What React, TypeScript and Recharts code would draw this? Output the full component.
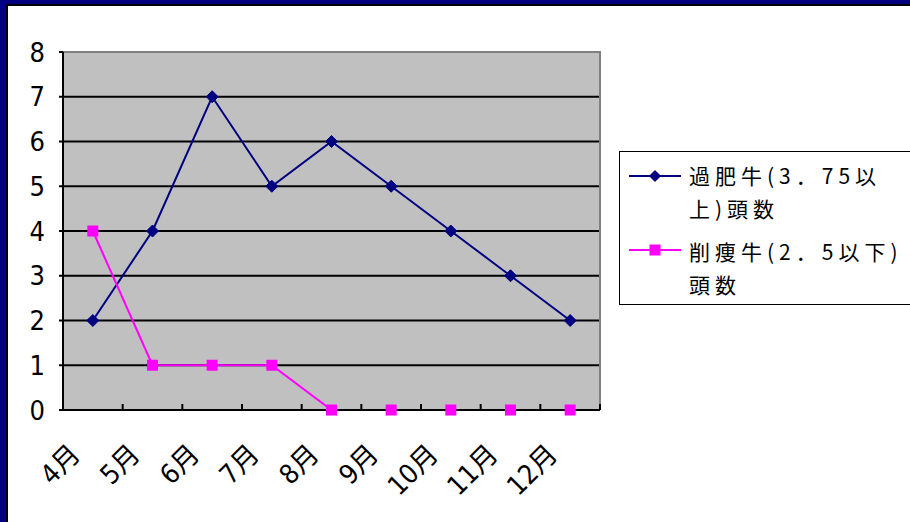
import React from 'react';
import {
  LineChart,
  Line,
  XAxis,
  YAxis,
  CartesianGrid,
  ReferenceArea,
  Legend
} from 'recharts';

// monthly head counts
const MONTHS = ['4月', '5月', '6月', '7月', '8月', '9月', '10月', '11月', '12月'];
const OVERWEIGHT = [2, 4, 7, 5, 6, 5, 4, 3, 2];
const UNDERWEIGHT = [4, 1, 1, 1, 0, 0, 0, 0, 0];
const Y_TICKS = [0, 1, 2, 3, 4, 5, 6, 7, 8];
const GRID_VALUES = [1, 2, 3, 4, 5, 6, 7];
const SERIES_NAMES = ['過肥牛(3．75以上)頭数', '削痩牛(2．5以下)頭数'];
const LEGEND_LINES = [
  ['過肥牛(3．75以', '上)頭数'],
  ['削痩牛(2．5以下)', '頭数']
];

const NAVY = '#000080';
const PINK = '#FF00FF';
const NUM_FONT = "'Liberation Sans Narrow', 'DejaVu Sans Condensed', 'Noto Sans CJK JP', sans-serif";
const CJK_FONT = "'Noto Sans CJK JP', sans-serif";

const data = MONTHS.map((month, i) => ({
  month,
  overweight: OVERWEIGHT[i],
  underweight: UNDERWEIGHT[i]
}));

const Diamond = (props: any) => {
  const { cx, cy, index } = props;
  const r = 6;
  return (
    <polygon
      key={`d-${index}`}
      points={`${cx},${cy - r} ${cx + r},${cy} ${cx},${cy + r} ${cx - r},${cy}`}
      fill={NAVY}
      stroke={NAVY}
    />
  );
};

const Square = (props: any) => {
  const { cx, cy, index } = props;
  const s = 11;
  return <rect key={`s-${index}`} x={cx - s / 2} y={cy - s / 2} width={s} height={s} fill={PINK} />;
};

const YTick = (props: any) => {
  const { y, payload } = props;
  return (
    <text x={45} y={y} textAnchor="end" dominantBaseline="central" fontFamily={NUM_FONT} fontSize={27} fill="#000">
      {payload.value}
    </text>
  );
};

// month label rotated 45°, plus an inward tick on the right edge of each category band
const MonthTick = (props: any) => {
  const { x, y, payload } = props;
  const half = payload.offset || 0;
  return (
    <g>
      {half > 0 && (
        <line x1={x + half} y1={y} x2={x + half} y2={y - 6} stroke="#000" strokeWidth={2} />
      )}
      <g transform={`translate(${x - 11}, ${y + 46})`}>
        <text x={0} y={0} textAnchor="end" transform="rotate(-45)" fontFamily={NUM_FONT} fontSize={27} fill="#000">
          {payload.value}
        </text>
      </g>
    </g>
  );
};

const LegendBox = () => (
  <div
    style={{
      width: 320,
      height: 154,
      border: '1.5px solid #000',
      background: '#fff',
      boxSizing: 'border-box',
      fontFamily: CJK_FONT,
      fontSize: 21,
      letterSpacing: 5,
      color: '#000'
    }}
  >
    {LEGEND_LINES.map((lines, i) => {
      const color = i === 0 ? NAVY : PINK;
      return (
        <div key={SERIES_NAMES[i]} style={{ position: 'relative', height: i === 0 ? 76 : 70, paddingTop: i === 0 ? 7 : 0 }}>
          <svg width={60} height={20} style={{ position: 'absolute', left: 8, top: i === 0 ? 14 : 5 }}>
            <line x1={1} y1={10} x2={53} y2={10} stroke={color} strokeWidth={2} />
            {i === 0 ? (
              <polygon points="27,4 33,10 27,16 21,10" fill={NAVY} />
            ) : (
              <rect x={21.5} y={4.5} width={11} height={11} fill={PINK} />
            )}
          </svg>
          {lines.map((t) => (
            <div key={t} style={{ marginLeft: 69, lineHeight: '33px', whiteSpace: 'nowrap' }}>
              {t}
            </div>
          ))}
        </div>
      );
    })}
  </div>
);

export default function App() {
  // top + right edges of the plot frame only
  const frameDash = '895 895';
  return (
    <div
      style={{
        position: 'absolute',
        left: 0,
        top: 0,
        width: 910,
        height: 522,
        background: '#fff',
        overflow: 'hidden'
      }}
    >
      <LineChart
        width={910}
        height={522}
        data={data}
        margin={{ top: 52, right: 310, bottom: 52, left: 23 }}
      >
        <CartesianGrid
          vertical={false}
          horizontalValues={GRID_VALUES}
          fill="#C0C0C0"
          fillOpacity={1}
          stroke="#000"
          strokeWidth={2}
        />
        <ReferenceArea
          y1={0}
          y2={8}
          fill="none"
          stroke="#808080"
          strokeWidth={2}
          strokeDasharray={frameDash}
        />
        <XAxis
          dataKey="month"
          scale="band"
          height={60}
          interval={0}
          tickSize={0}
          tickMargin={0}
          tickLine={false}
          axisLine={{ stroke: '#000', strokeWidth: 2 }}
          tick={<MonthTick />}
        />
        <YAxis
          domain={[0, 8]}
          ticks={Y_TICKS}
          width={40}
          interval={0}
          tickSize={4}
          tickLine={{ stroke: '#000', strokeWidth: 2 }}
          axisLine={{ stroke: '#000', strokeWidth: 2 }}
          tick={<YTick />}
        />
        <Line
          type="linear"
          dataKey="overweight"
          name={SERIES_NAMES[0]}
          stroke={NAVY}
          strokeWidth={2}
          dot={<Diamond />}
          activeDot={false}
          isAnimationActive={false}
        />
        <Line
          type="linear"
          dataKey="underweight"
          name={SERIES_NAMES[1]}
          stroke={PINK}
          strokeWidth={2}
          dot={<Square />}
          activeDot={false}
          isAnimationActive={false}
        />
        <Legend
          layout="horizontal"
          align="center"
          verticalAlign="middle"
          content={<LegendBox />}
          wrapperStyle={{ position: 'absolute', left: 619, top: 151, width: 320, height: 154 }}
        />
      </LineChart>
      {/* frame bands along top and left edges */}
      <div style={{ position: 'absolute', left: 0, top: 0, width: 910, height: 4, background: NAVY }} />
      <div style={{ position: 'absolute', left: 6, top: 4, width: 904, height: 2, background: '#000' }} />
      <div style={{ position: 'absolute', left: 0, top: 0, width: 6, height: 522, background: NAVY }} />
      <div style={{ position: 'absolute', left: 6, top: 4, width: 2, height: 518, background: '#000' }} />
    </div>
  );
}
